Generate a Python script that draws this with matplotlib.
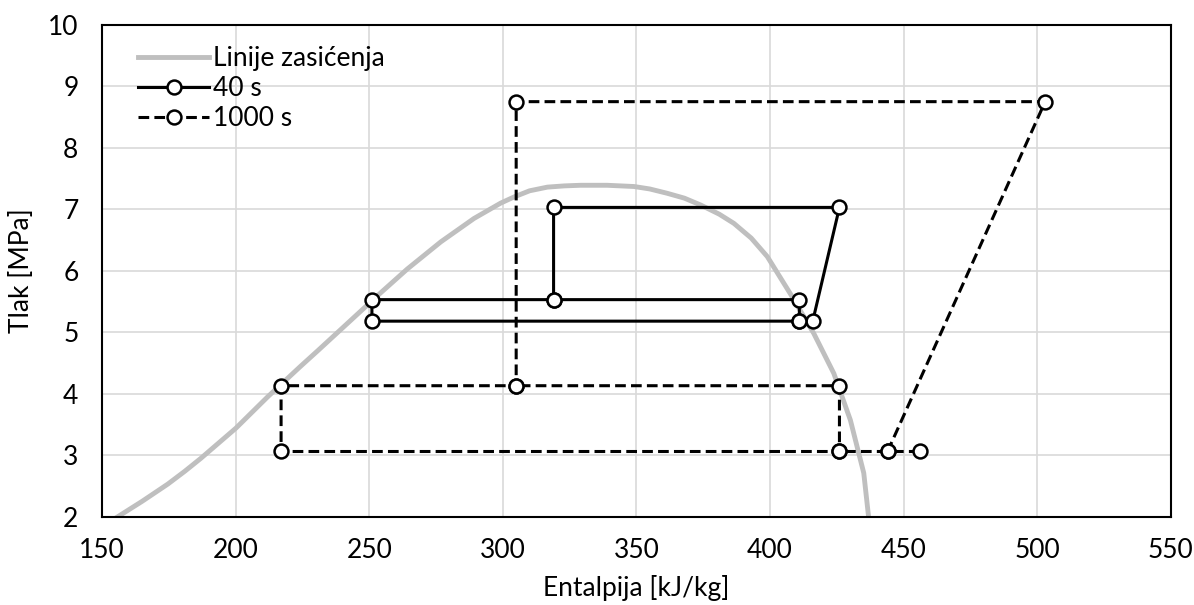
import numpy as np
import matplotlib.pyplot as plt

plt.rcParams['font.family'] = ['Lato', 'DejaVu Sans']

# saturation dome
sat_h = [155.9, 165, 174.6, 181, 187.0, 200.1, 212.0, 224.4, 231, 237, 243, 248, 254,
         264.3, 276.8, 289.2, 299.2, 304.2, 310, 316.7, 323, 329.1, 339, 349.1,
         355, 361.5, 368, 374, 381, 386.5, 393, 399, 407.7, 416.4, 423.9, 430.1,
         435.1, 436.9]
sat_p = [2.0, 2.25, 2.53, 2.74, 2.95, 3.44, 3.95, 4.45, 4.71, 4.95, 5.19, 5.39, 5.63,
         6.03, 6.47, 6.85, 7.1, 7.2, 7.3, 7.36, 7.38, 7.39, 7.39, 7.37,
         7.33, 7.26, 7.18, 7.07, 6.92, 6.77, 6.53, 6.23, 5.62, 4.98, 4.33, 3.57,
         2.71, 2.0]

# 40 s cycle
h40 = [319, 251, 251, 411, 411, 319, 319, 426, 416, 411]
p40 = [5.53, 5.53, 5.18, 5.18, 5.53, 5.53, 7.03, 7.03, 5.18, 5.18]

# 1000 s cycle (nan splits the path)
h1000 = [456, 444, 503, 305, 305, 217, 217, 426, 426, 305, np.nan, 444, 426]
p1000 = [3.06, 3.06, 8.75, 8.75, 4.13, 4.13, 3.06, 3.06, 4.13, 4.13, np.nan, 3.06, 3.06]

fig = plt.figure(figsize=(11.94, 6.05), dpi=100)
ax = fig.add_axes([0.0855, 0.146, 0.895, 0.813])

ax.plot(sat_h, sat_p, color='#bfbfbf', lw=3.5, label='Linije zasićenja', zorder=2)
mk = dict(marker='o', markersize=10, markerfacecolor='white',
          markeredgecolor='black', markeredgewidth=1.8)
ax.plot(h40, p40, color='black', lw=2.2, label='40 s', zorder=3, **mk)
ax.plot(h1000, p1000, color='black', lw=2.2, dashes=(3.5, 1.7),
        label='1000 s', zorder=3, **mk)

ax.set_xlim(150, 550)
ax.set_ylim(2, 10)
ax.set_xticks(np.arange(150, 551, 50))
ax.set_yticks(np.arange(2, 11, 1))
ax.grid(True, color='#d9d9d9', lw=1.2)
ax.set_axisbelow(True)
for s in ax.spines.values():
    s.set_color('black')
    s.set_linewidth(1.5)
ax.tick_params(axis='x', length=0, labelsize=19, pad=15)
ax.tick_params(axis='y', length=0, labelsize=19, pad=17)
ax.set_xlabel('Entalpija [kJ/kg]', fontsize=19, labelpad=9)
ax.set_ylabel('Tlak [MPa]', fontsize=19, labelpad=10)

ax.legend(loc='upper left', frameon=False, fontsize=19, handlelength=2.7,
          handletextpad=0.15, labelspacing=0.2, borderaxespad=0.4,
          bbox_to_anchor=(0.014, 1.0))

fig.savefig('out.png', dpi=100)
